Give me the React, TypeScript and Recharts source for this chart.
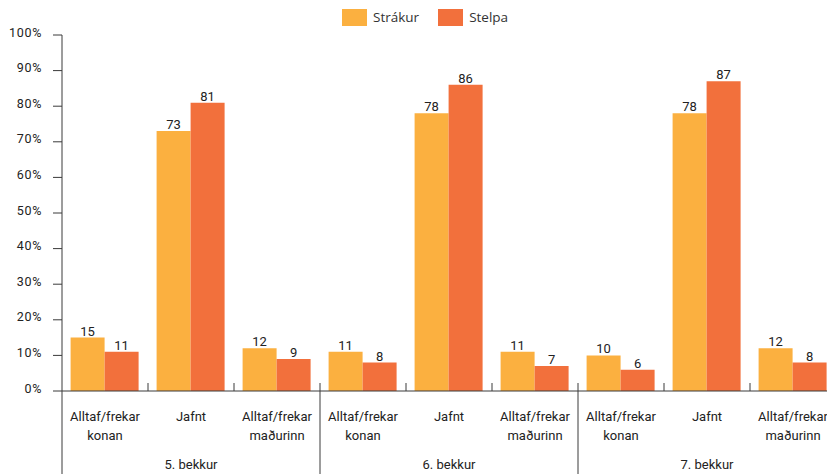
import React from "react";
import { BarChart, Bar, XAxis, YAxis, LabelList } from "recharts";

const grades = ["5. bekkur", "6. bekkur", "7. bekkur"];
const answers = [
  ["Alltaf/frekar", "konan"],
  ["Jafnt"],
  ["Alltaf/frekar", "maðurinn"],
];
const strakur = [15, 73, 12, 11, 78, 11, 10, 78, 12];
const stelpa = [11, 81, 9, 8, 86, 7, 6, 87, 8];
const seriesNames = ["Strákur", "Stelpa"];
const seriesColors = ["#FBB040", "#F2703C"];
const yTicks = [0, 10, 20, 30, 40, 50, 60, 70, 80, 90, 100];

const rows = strakur.map((v, i) => ({
  key: String(i),
  grade: grades[Math.floor(i / answers.length)],
  answer: answers[i % answers.length],
  s: v,
  g: stelpa[i],
}));

const CHART_W = 840;
const CHART_H = 474;
const Y_W = 62;
const M = { top: 35, right: 4, bottom: 0, left: 0 };
const X_H = 83;
const BAND = (CHART_W - M.left - M.right - Y_W) / rows.length;
const FONT = "Roboto, 'DejaVu Sans', sans-serif";
const AXIS_COLOR = "#3a3a3a";

function YTick(props: any) {
  const { x, y, payload } = props;
  return (
    <text x={x} y={y + 1.5} textAnchor="end" fontSize={12.5} fill="#222" fontFamily={FONT} letterSpacing={0.7}>
      {payload.value + "%"}
    </text>
  );
}

function CatTick(props: any) {
  const { x, y, index } = props;
  const row = rows[index];
  if (!row) return null;
  const per = answers.length;
  const rightX = x + BAND / 2;
  const leftX = x - BAND / 2;
  const isGroupEnd = index % per === per - 1;
  const els: any[] = [];
  els.push(
    <line key="r" x1={rightX} x2={rightX} y1={y - 8} y2={isGroupEnd ? y + X_H : y} stroke={AXIS_COLOR} strokeWidth={1} />
  );
  if (index === 0) {
    els.push(<line key="l" x1={leftX} x2={leftX} y1={y} y2={y + X_H} stroke={AXIS_COLOR} strokeWidth={1} />);
  }
  row.answer.forEach((t: string, k: number) => {
    els.push(
      <text key={"t" + k} x={x} y={y + 30 + k * 19} textAnchor="middle" fontSize={13} fill="#222" fontFamily={FONT}>
        {t}
      </text>
    );
  });
  if (index % per === Math.floor(per / 2)) {
    els.push(
      <text key="g" x={x} y={y + 78} textAnchor="middle" fontSize={13} fill="#222" fontFamily={FONT}>
        {row.grade}
      </text>
    );
  }
  return <g>{els}</g>;
}

export default function App() {
  return (
    <div style={{ position: "absolute", left: 0, top: 0, width: 827, height: 474, overflow: "hidden", background: "#fff" }}>
      <div style={{ position: "absolute", left: 342, top: 8, display: "flex", alignItems: "center", fontFamily: "'Open Sans', sans-serif", fontSize: 13.5, color: "#333" }}>
        {seriesNames.map((n, i) => (
          <div key={n} style={{ display: "flex", alignItems: "center", marginRight: 19 }}>
            <div style={{ width: 25, height: 17, background: seriesColors[i], marginRight: 6 }} />
            <span>{n}</span>
          </div>
        ))}
      </div>
      <BarChart
        width={CHART_W}
        height={CHART_H}
        data={rows}
        margin={M}
        barCategoryGap="10%"
        barGap={0}
      >
        <YAxis
          width={Y_W}
          domain={[0, 100]}
          ticks={yTicks}
          interval={0}
          tickSize={9}
          tickMargin={11}
          axisLine={{ stroke: AXIS_COLOR }}
          tickLine={{ stroke: AXIS_COLOR }}
          tick={<YTick />}
        />
        <XAxis
          dataKey="key"
          height={X_H}
          interval={0}
          tickSize={0}
          tickMargin={0}
          tickLine={false}
          axisLine={{ stroke: AXIS_COLOR }}
          tick={<CatTick />}
        />
        <Bar dataKey="s" name={seriesNames[0]} fill={seriesColors[0]} isAnimationActive={false}>
          <LabelList dataKey="s" position="top" offset={2} fontSize={13} fill="#222" fontFamily={FONT} />
        </Bar>
        <Bar dataKey="g" name={seriesNames[1]} fill={seriesColors[1]} isAnimationActive={false}>
          <LabelList dataKey="g" position="top" offset={2} fontSize={13} fill="#222" fontFamily={FONT} />
        </Bar>
      </BarChart>
    </div>
  );
}
